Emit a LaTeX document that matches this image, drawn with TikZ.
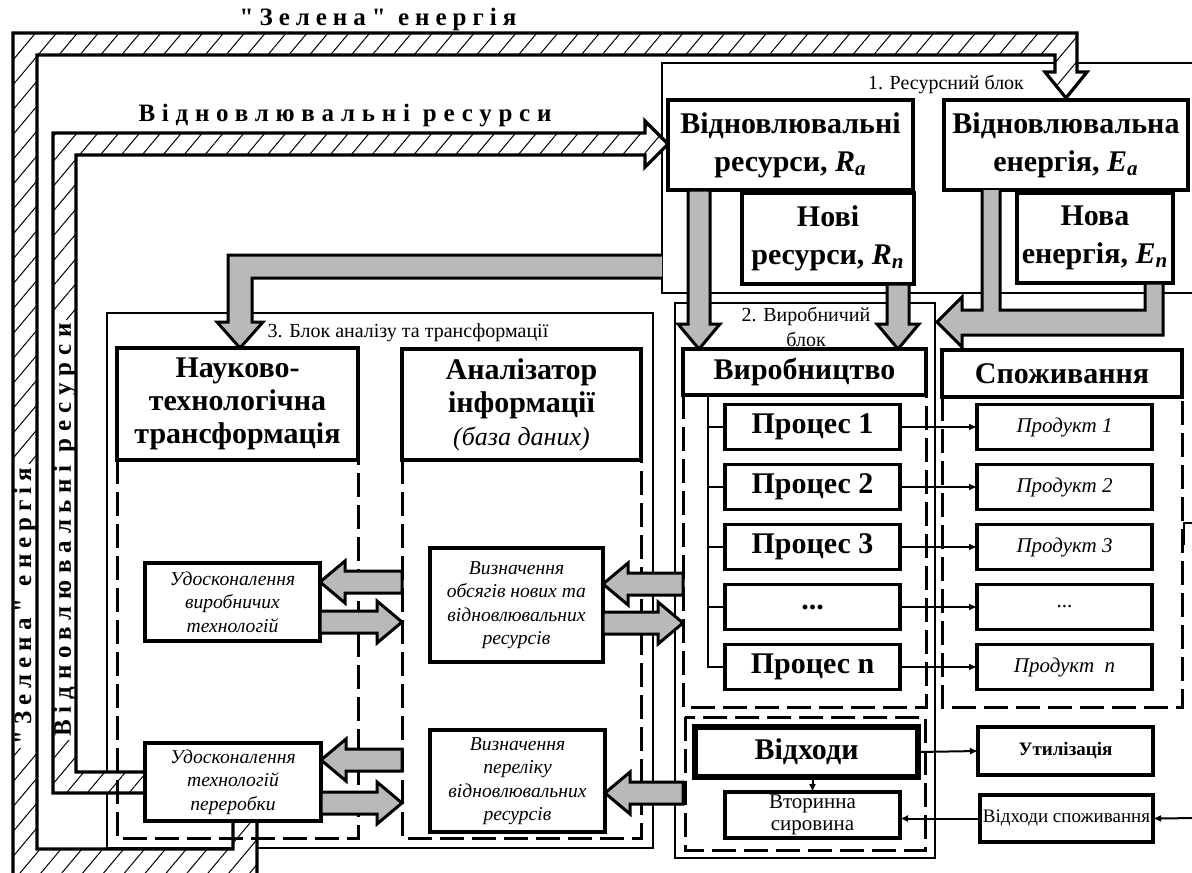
\documentclass[tikz,border=0pt]{standalone}
\usepackage{fontspec}
\setmainfont{Liberation Serif}
\newfontfamily\spacedgreen[LetterSpace=24]{Liberation Serif}
\newfontfamily\spacedres[LetterSpace=27]{Liberation Serif}
\usetikzlibrary{calc,arrows.meta,patterns.meta}

\tikzset{
  box/.style={draw, line width=1.6pt, fill=white, align=center, inner sep=1pt, outer sep=0pt},
  boxsize/.style 2 args={minimum width=#1*0.5pt, minimum height=#2*0.5pt},
  bigfont/.style={font=\fontsize{15}{19}\selectfont\bfseries},
  headfont/.style={font=\fontsize{15}{16.5}\selectfont\bfseries},
  itfont/.style={font=\fontsize{9.8}{11.7}\selectfont\itshape},
  prodfont/.style={font=\fontsize{10.5}{12}\selectfont\itshape},
  smallfont/.style={font=\fontsize{10}{12.5}\selectfont},
  greentxt/.style={font=\spacedgreen\fontsize{12.5}{13}\selectfont\bfseries, inner xsep=2pt, inner ysep=0pt},
  restxt/.style={font=\spacedres\fontsize{12.5}{13}\selectfont\bfseries, inner xsep=2pt, inner ysep=0pt},
  proc/.style={box, boxsize={175}{45}, headfont},
  prod/.style={box, boxsize={175}{45}, prodfont},
  blockline/.style={line width=1.4pt},
  dashbox/.style={line width=1.5pt, dash pattern=on 12pt off 4pt},
  hatch/.style={pattern={Lines[angle=50,distance=8pt,line width=0.5pt]}},
  bandline/.style={line width=1.6pt, line join=miter},
  fat/.style={draw, fill=gray!55, line width=1.5pt, line join=miter},
  spineline/.style={line width=1.2pt},
  flow/.style={line width=1pt, -{Latex[length=4pt,width=3.5pt]}},
}

% wide grey arrow between two points
\newcommand\fatarrow[2]{%
  \coordinate (fa1) at #1;
  \coordinate (fa2) at #2;
  \coordinate (fab) at ($(fa2)!12.5pt!(fa1)$);
  \draw[fat] ($(fa1)!5.5pt!90:(fa2)$) -- ($(fab)!5.5pt!90:(fa2)$) -- ($(fab)!10.5pt!90:(fa2)$)
    -- (fa2) -- ($(fab)!10.5pt!-90:(fa2)$) -- ($(fab)!5.5pt!-90:(fa2)$) -- ($(fa1)!5.5pt!-90:(fa2)$) -- cycle;}

% hatched bands
\def\greenband{(233,821) -- (233,849) -- (37,849) -- (37,55) -- (1055,55) -- (1055,72) -- (1045,72) -- (1066,98) -- (1087,72) -- (1077,72) -- (1077,33) -- (13,33) -- (13,880) -- (257,880) -- (257,821) -- cycle}
\def\resband{(145,772) -- (76,772) -- (76,155) -- (645,155) -- (645,167) -- (668,144) -- (645,121) -- (645,133) -- (53,133) -- (53,793) -- (145,793) -- cycle}

\begin{document}
\begin{tikzpicture}[x=0.5pt, y=-0.5pt]
    \useasboundingbox (0,0) rectangle (1192,872);

    % Blocks
    \draw[blockline] (662,63) rectangle (1210,293);
    \draw[blockline] (107,313) rectangle (653,848);
    \draw[blockline] (675,303) rectangle (935,858);
    \node[smallfont] (lab1) at (946,85) {1. Ресурсний блок};
    \node[smallfont, align=center] (lab2) at (806,327) {2. Виробничий\\блок};
    \node[smallfont] (lab3) at (408,333) {3. Блок аналізу та трансформації};

    % Hatched bands
    \path[preaction={fill=white}, hatch] \greenband;
    \path[preaction={fill=white}, hatch] \resband;
    \node[greentxt] (gtop) at (378,19) {"Зелена" енергія};
    \node[restxt] (rtop) at (345,116) {Відновлювальні ресурси};
    \node[greentxt, fill=white, rotate=90] (gside) at (25,606) {"Зелена" енергія};
    \node[restxt, fill=white, rotate=90] (rside) at (65,530) {Відновлювальні ресурси};
    \draw[bandline] \greenband;
    \draw[bandline] \resband;

    % Resource block
    \node[box, bigfont, boxsize={245}{90}] (ra) at (790.5,145) {Відновлювальні\\ресурси, \textit{R\textsubscript{a}}};
    \node[box, bigfont, boxsize={244}{90}] (ea) at (1066,145) {Відновлювальна\\енергія, \textit{E\textsubscript{a}}};
    \node[box, bigfont, boxsize={172}{91}] (rn) at (828,238.5) {Нові\\ресурси, \textit{R\textsubscript{n}}};
    \node[box, bigfont, boxsize={156}{90}] (en) at (1095,238) {Нова\\енергія, \textit{E\textsubscript{n}}};

    % Analysis block
    \coordinate (floor3) at (0,838);
    \node[box, headfont, boxsize={241}{112}] (ntt) at (237.5,404) {Науково-\\технологічна\\трансформація};
    \node[box, headfont, boxsize={239}{111}] (an) at (521.5,404.5) {Аналізатор\\інформації\\{\fontsize{13}{14}\selectfont\mdseries\itshape (база даних)}};
    \draw[dashbox] (ntt.south west) -- (ntt.south west |- floor3) -- (ntt.south east |- floor3) -- (ntt.south east);
    \draw[dashbox] (an.south west) -- (an.south west |- floor3) -- (an.south east |- floor3) -- (an.south east);
    \node[box, itfont, boxsize={175}{78}] (uvt) at (232.5,602) {Удосконалення\\виробничих\\технологій};
    \node[box, itfont, boxsize={176}{78}] (utp) at (233,782) {Удосконалення\\технологій\\переробки};
    \node[box, itfont, boxsize={173}{114}] (vo) at (516.5,605) {Визначення\\обсягів нових та\\відновлювальних\\ресурсів};
    \node[box, itfont, boxsize={175}{102}] (vp) at (517.5,781) {Визначення\\переліку\\відновлювальних\\ресурсів};

    % Production block
    \coordinate (floor2) at (0,707);
    \node[box, headfont, boxsize={243}{46}] (vyrob) at (804.5,372) {Виробництво};
    \node[box, headfont, boxsize={240}{47}] (spoz) at (1062,373.5) {Споживання};
    \draw[dashbox] (vyrob.south west) -- (vyrob.south west |- floor2) -- (vyrob.south east |- floor2) -- (vyrob.south east);
    \draw[dashbox] (spoz.south west) -- (spoz.south west |- floor2) -- (spoz.south east |- floor2) -- (spoz.south east);
    \node[proc] (p1) at (812.5,427) {Процес 1};
    \node[proc] (p2) at (812.5,487) {Процес 2};
    \node[proc] (p3) at (812.5,547) {Процес 3};
    \node[proc] (p4) at (812.5,607) {...};
    \node[proc] (p5) at (812.5,667) {Процес n};
    \node[prod] (q1) at (1064.5,427) {Продукт 1};
    \node[prod] (q2) at (1064.5,487) {Продукт 2};
    \node[prod] (q3) at (1064.5,547) {Продукт 3};
    \node[prod, font=\fontsize{10.5}{12}\selectfont] (q4) at (1064.5,607) {...};
    \node[prod] (q5) at (1064.5,667) {Продукт\enspace n};

    % Waste
    \draw[dashbox] (685,717) rectangle (925,850);
    \node[box, line width=2.8pt, headfont, boxsize={223}{50}] (waste) at (806.5,752) {Відходи};
    \node[box, font=\fontsize{10.5}{11}\selectfont, boxsize={175}{46}] (second) at (812.5,815) {Вторинна\\сировина};
    \node[box, font=\fontsize{9.5}{11}\selectfont\bfseries, boxsize={175}{48}] (util) at (1065.5,751) {Утилізація};
    \node[box, font=\fontsize{9.5}{11}\selectfont, boxsize={173}{47}] (wcons) at (1066.5,818.5) {Відходи споживання};

    % Process spine
    \coordinate (spine) at ([xshift=12.5pt]vyrob.south west);
    \draw[spineline] (spine) |- (p5.west);
    \draw[spineline] (p1.west) -- (p1.west -| spine);
    \draw[spineline] (p2.west) -- (p2.west -| spine);
    \draw[spineline] (p3.west) -- (p3.west -| spine);
    \draw[spineline] (p4.west) -- (p4.west -| spine);

    % Products and waste flows
    \draw[flow] (p1.east) -- (q1.west);
    \draw[flow] (p2.east) -- (q2.west);
    \draw[flow] (p3.east) -- (q3.west);
    \draw[flow] (p4.east) -- (q4.west);
    \draw[flow] (p5.east) -- (q5.west);
    \draw[flow] (waste.east) -- (util.west);
    \draw[flow] (second.north |- waste.south) -- (second.north);
    \draw[flow] (wcons.west) -- (second.east |- wcons.west);
    \coordinate (inright) at (1200,818);
    \draw[flow] (inright) -- (wcons.east);
    \coordinate (outright) at (1200,523);
    \coordinate (stub) at (1184,545);
    \draw[spineline] (outright) -| (stub);

    % Grey arrows
    \fatarrow{([xshift=15.5pt]ra.south west)}{([xshift=8pt]vyrob.north west)}
    \fatarrow{([xshift=-8pt]rn.south east)}{([xshift=-14pt]vyrob.north east)}
    \draw[fat] (662,255) -- (228,255) -- (228,322) -- (217,322) -- (240,348) -- (263,322) -- (252,322) -- (252,278) -- (662,278);
    \draw[fat] (982,190) -- (982,310) -- (962,310) -- (962,297) -- (937,322) -- (962,347) -- (962,335) -- (1163,335) -- (1163,283) -- (1145,283) -- (1145,310) -- (1000,310) -- (1000,190);

    \coordinate (uvtL) at ([yshift=10pt]uvt.east);
    \coordinate (uvtR) at ([yshift=-10pt]uvt.east);
    \coordinate (utpL) at ([yshift=11pt]utp.east);
    \coordinate (utpR) at ([yshift=-10.5pt]utp.east);
    \coordinate (voL) at ([yshift=10.5pt]vo.east);
    \coordinate (voR) at ([yshift=-9pt]vo.east);
    \coordinate (vpL) at ([yshift=-6pt]vp.east);
    \fatarrow{(uvtL -| an.west)}{(uvtL)}
    \fatarrow{(uvtR)}{(uvtR -| an.west)}
    \fatarrow{(utpL -| an.west)}{(utpL)}
    \fatarrow{(utpR)}{(utpR -| an.west)}
    \fatarrow{(voL -| vyrob.west)}{(voL)}
    \fatarrow{(voR)}{(voR -| vyrob.west)}
    \fatarrow{(vpL -| vyrob.west)}{(vpL)}
\end{tikzpicture}
\end{document}
